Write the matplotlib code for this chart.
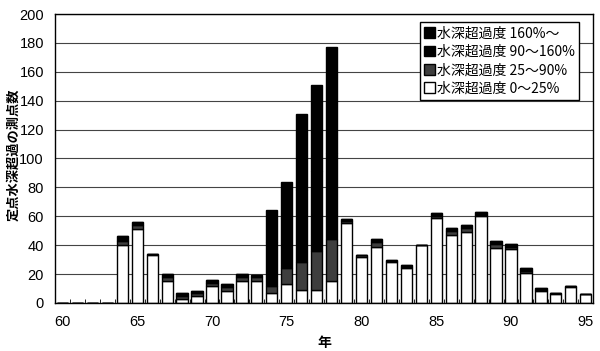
import numpy as np
import matplotlib
matplotlib.use("Agg")
import matplotlib.pyplot as plt

plt.rcParams['font.family'] = ['Noto Sans CJK JP', 'DejaVu Sans']

# ---------------------------------------------------------------------------
# Data
# ---------------------------------------------------------------------------
years = list(range(60, 96))

# 0-25 %
v_0_25 = [0, 0, 0, 0,
          40, 51, 33, 15, 3, 5, 12, 8, 15, 15,
          7, 13, 9, 9, 15,
          55, 32, 39, 28, 24, 40, 59, 47, 49, 60, 38, 37, 21, 8, 6, 11, 6]
# 25-90 %
v_25_90 = [0, 0, 0, 0,
           3, 3, 1, 3, 2, 2, 2, 3, 3, 3,
           5, 11, 19, 27, 29,
           2, 1, 3, 1, 1, 0, 1, 3, 3, 1, 3, 2, 1, 1, 1, 0.5, 0.5]
# 90-160 %
v_90_160 = [0, 0, 0, 0,
            3, 2, 0, 2, 2, 1, 2, 2, 2, 1,
            30, 35, 50, 55, 60,
            1, 0, 2, 1, 1, 0, 2, 2, 2, 2, 2, 2, 2, 1, 0, 0, 0]
# 160 % -
v_160 = [0, 0, 0, 0,
         0, 0, 0, 0, 0, 0, 0, 0, 0, 0,
         22, 24.5, 52.5, 60, 73,
         0, 0, 0, 0, 0, 0, 0, 0, 0, 0, 0, 0, 0, 0, 0, 0, 0]

labels = ["水深超過度 0～25%", "水深超過度 25～90%",
          "水深超過度 90～160%", "水深超過度 160%～"]
colors = ["white", "#3e3e3e", "black", "black"]

yticks = list(range(0, 201, 20))
xtick_years = [60, 65, 70, 75, 80, 85, 90, 95]

# ---------------------------------------------------------------------------
fig = plt.figure(figsize=(6.0, 3.51), dpi=100)
ax = fig.add_axes([0.0917, 0.137, 0.897, 0.823])

x = np.asarray(years, dtype=float)
series = [v_0_25, v_25_90, v_90_160, v_160]
bottom = np.zeros(len(years))
handles = []
for vals, col, lab in zip(series, colors, labels):
    vals = np.asarray(vals, dtype=float)
    h = ax.bar(x, vals, bottom=bottom, width=0.75, color=col,
               edgecolor="black", linewidth=1.0, label=lab)
    handles.append(h)
    bottom += vals

ax.set_xlim(59.5, 95.5)
ax.set_ylim(0, 200)
ax.set_yticks(yticks)
ax.set_xticks(xtick_years)
ax.set_xticks(np.arange(60.5, 95.5, 1.0), minor=True)
ax.tick_params(axis="x", which="major", length=0, pad=9)
ax.tick_params(axis="x", which="minor", direction="in", length=3, width=0.6)
ax.tick_params(axis="y", length=0, pad=8)
for lbl in ax.get_xticklabels() + ax.get_yticklabels():
    lbl.set_fontfamily(["Liberation Sans", "DejaVu Sans"])
    lbl.set_fontsize(10.5)

ax.yaxis.grid(True, color="#444444", linewidth=0.8)
ax.set_axisbelow(True)
for sp in ax.spines.values():
    sp.set_linewidth(1.0)
    sp.set_color("black")

# y label placed by hand so it stays inside the figure
fig.text(13 / 600, 1 - 155 / 351, "定点水深超過の測点数", rotation=90,
         ha="center", va="center", fontsize=9.5, fontweight="bold")
ax.set_xlabel("年", fontsize=10, fontweight="bold", labelpad=5)

leg = ax.legend(handles[::-1], labels[::-1], loc="upper right",
                bbox_to_anchor=(0.974, 0.972), fontsize=10,
                frameon=True, fancybox=False, framealpha=1,
                edgecolor="black", handlelength=0.8, handleheight=0.8,
                handletextpad=0.15, labelspacing=0.32, borderpad=0.3,
                borderaxespad=0.0)
leg.get_frame().set_linewidth(1.0)

fig.savefig("out.png", dpi=100)
plt.close(fig)
